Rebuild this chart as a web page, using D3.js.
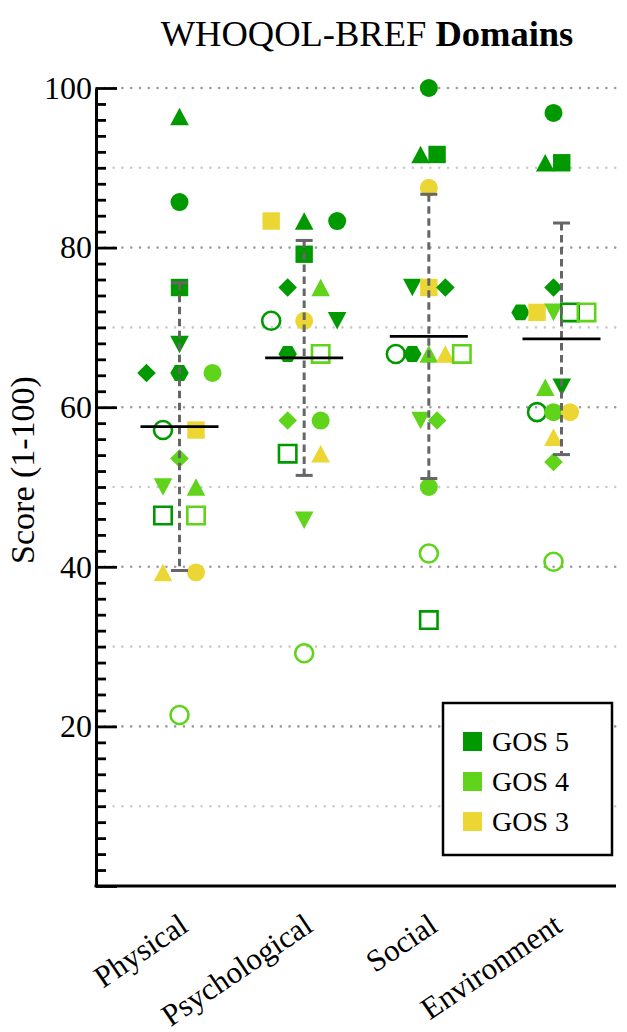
<!DOCTYPE html>
<html>
<head>
<meta charset="utf-8">
<script src="https://cdn.jsdelivr.net/npm/d3@7"></script>
<style>
  html, body { margin: 0; padding: 0; background: #ffffff; }
  svg { display: block; font-family: "Liberation Serif", "Times New Roman", serif; }
</style>
</head>
<body>
<svg id="chart" width="627" height="1032"></svg>
<script>
// ---- data ----------------------------------------------------------------
const domains = ["Physical", "Psychological", "Social", "Environment"];
const groups = ["GOS 5", "GOS 4", "GOS 3"];
const groupColors = ["#009a00", "#5fd41b", "#ebd633"];

// one marker per patient: outcome group, symbol and whether it is open
const patientIds    = ["5tri", "5cir", "5sq", "5inv", "5dia", "5hex", "5ocir", "5osq",
                       "4cir", "4dia", "4inv", "4tri", "4osq", "4ocir",
                       "3sq", "3tri", "3cir"];
const patientGroup  = [0, 0, 0, 0, 0, 0, 0, 0, 1, 1, 1, 1, 1, 1, 2, 2, 2];
const patientShape  = ["triangle", "circle", "square", "triangleDown", "diamond", "hexagon", "circle", "square",
                       "circle", "diamond", "triangleDown", "triangle", "square", "circle",
                       "square", "triangle", "circle"];
const patientHollow = [false, false, false, false, false, false, true, true,
                       false, false, false, false, true, true,
                       false, false, false];

// domain scores (0-100); patients sharing a score are listed left to right
const physicalScores = [
  ["5tri", 96.43], ["5cir", 85.71], ["5sq", 75.00], ["5inv", 67.86],
  ["5dia", 64.29], ["5hex", 64.29], ["4cir", 64.29],
  ["5ocir", 57.14], ["3sq", 57.14], ["4dia", 53.57],
  ["4inv", 50.00], ["4tri", 50.00], ["5osq", 46.43], ["4osq", 46.43],
  ["3tri", 39.29], ["3cir", 39.29], ["4ocir", 21.43]
];
const psychologicalScores = [
  ["3sq", 83.33], ["5tri", 83.33], ["5cir", 83.33], ["5sq", 79.17],
  ["5dia", 75.00], ["4tri", 75.00],
  ["5ocir", 70.83], ["3cir", 70.83], ["5inv", 70.83],
  ["5hex", 66.67], ["4osq", 66.67], ["4dia", 58.33], ["4cir", 58.33],
  ["5osq", 54.17], ["3tri", 54.17], ["4inv", 45.83], ["4ocir", 29.17]
];
const socialScores = [
  ["5cir", 100.00], ["5tri", 91.67], ["5sq", 91.67], ["3cir", 87.50],
  ["5inv", 75.00], ["3sq", 75.00], ["5dia", 75.00],
  ["5ocir", 66.67], ["5hex", 66.67], ["4tri", 66.67], ["3tri", 66.67], ["4osq", 66.67],
  ["4inv", 58.33], ["4dia", 58.33], ["4cir", 50.00], ["4ocir", 41.67], ["5osq", 33.33]
];
const environmentScores = [
  ["5cir", 96.88], ["5tri", 90.63], ["5sq", 90.63], ["5dia", 75.00],
  ["5hex", 71.88], ["3sq", 71.88], ["4inv", 71.88], ["5osq", 71.88], ["4osq", 71.88],
  ["4tri", 62.50], ["5inv", 62.50],
  ["5ocir", 59.38], ["4cir", 59.38], ["3cir", 59.38],
  ["3tri", 56.25], ["4dia", 53.13], ["4ocir", 40.63]
];
const domainScores = [physicalScores, psychologicalScores, socialScores, environmentScores];

const majorTicks = [0, 20, 40, 60, 80, 100];
const gridValues = [10, 20, 30, 40, 50, 60, 70, 80, 90, 100];

// ---- layout --------------------------------------------------------------
const svg = d3.select("#chart");
const axisX = 96, axisRight = 616, gridRight = 622;

const y = d3.scaleLinear().domain([0, 100]).range([886, 88]);
const x = d3.scalePoint().domain(domains).range([179.5, 553.5]);

// title
const title = svg.append("text")
  .attr("x", 367).attr("y", 46)
  .attr("text-anchor", "middle")
  .style("font-size", "36.5px")
  .attr("fill", "#000");
title.append("tspan").text("WHOQOL-BREF ");
title.append("tspan").attr("font-weight", "bold").text("Domains");

// dotted grid
svg.append("g").selectAll("line")
  .data(gridValues)
  .join("line")
  .attr("x1", axisX).attr("x2", gridRight)
  .attr("y1", d => y(d)).attr("y2", d => y(d))
  .attr("stroke", d => d % 20 === 0 ? "#9c9c9c" : "#c9c9c9")
  .attr("stroke-width", 2.6)
  .attr("stroke-linecap", "round")
  .attr("stroke-dasharray", "0 8.8");

// y axis: long ticks at 20s, short ticks every 2
const minorTicks = d3.range(0, 101, 2).filter(v => v % 20 !== 0);
const yMinor = svg.append("g").attr("transform", `translate(${axisX},0)`)
  .call(d3.axisLeft(y).tickValues(minorTicks).tickSizeInner(-10).tickSizeOuter(0).tickFormat(""));
yMinor.select(".domain").remove();
yMinor.selectAll(".tick line").attr("stroke", "#000").attr("stroke-width", 2.8);

const yMajor = svg.append("g").attr("transform", `translate(${axisX},0)`)
  .call(d3.axisLeft(y).tickValues(majorTicks).tickSizeInner(-21).tickSizeOuter(0).tickPadding(4)
    .tickFormat(d => d === 0 ? "" : d));
yMajor.select(".domain").attr("stroke", "#000").attr("stroke-width", 3);
yMajor.selectAll(".tick line").attr("stroke", "#000").attr("stroke-width", 2.8);
yMajor.selectAll(".tick text")
  .style("font-family", "'Liberation Serif', 'Times New Roman', serif")
  .style("font-size", "32px").attr("fill", "#000");

svg.append("text")
  .attr("transform", "translate(22,470) rotate(-90)")
  .attr("text-anchor", "middle")
  .attr("dominant-baseline", "central")
  .style("font-size", "34px")
  .text("Score (1-100)");

// x axis
svg.append("line")
  .attr("x1", axisX - 1.5).attr("x2", axisRight)
  .attr("y1", y(0)).attr("y2", y(0))
  .attr("stroke", "#000").attr("stroke-width", 3);

const xAxis = svg.append("g").attr("transform", `translate(0,${y(0)})`)
  .call(d3.axisBottom(x).tickSize(0));
xAxis.select(".domain").remove();
xAxis.selectAll(".tick text")
  .style("font-family", "'Liberation Serif', 'Times New Roman', serif")
  .style("font-size", "31px").attr("fill", "#000")
  .attr("text-anchor", "end")
  .attr("dy", null).attr("y", null)
  .attr("transform", "translate(10,44) rotate(-34)");

// ---- markers -------------------------------------------------------------
function markerPath(shape) {
  const p = d3.path();
  const poly = pts => { p.moveTo(pts[0][0], pts[0][1]); pts.slice(1).forEach(q => p.lineTo(q[0], q[1])); p.closePath(); };
  switch (shape) {
    case "circle": p.arc(0, 0, 9, 0, 2 * Math.PI); p.closePath(); break;
    case "square": poly([[-8.7, -8.7], [8.7, -8.7], [8.7, 8.7], [-8.7, 8.7]]); break;
    case "triangle": poly([[0, -8.8], [9.3, 8.8], [-9.3, 8.8]]); break;
    case "triangleDown": poly([[0, 8.8], [9.3, -8.8], [-9.3, -8.8]]); break;
    case "diamond": poly([[0, -9.3], [9.3, 0], [0, 9.3], [-9.3, 0]]); break;
    case "hexagon": {
      const r = 9.2;
      poly(d3.range(6).map(k => [r * Math.cos(k * Math.PI / 3), r * Math.sin(k * Math.PI / 3)]));
      break;
    }
  }
  return p.toString();
}

// points that share a score sit side by side, centred on the column
const colSpread = 66;

const pointLayer = svg.append("g");
domainScores.forEach((scores, di) => {
  const rows = d3.group(scores, d => d[1]);
  const widest = d3.max(rows.values(), v => v.length);
  const step = widest > 1 ? Math.min(33, colSpread / (widest - 1)) : 0;
  const pts = scores.map(([id, val]) => {
    const row = rows.get(val);
    const k = row.findIndex(r => r[0] === id);
    const idx = patientIds.indexOf(id);
    return { id, val, idx, off: (k - (row.length - 1) / 2) * step };
  });
  pointLayer.append("g").selectAll("path")
    .data(pts)
    .join("path")
    .attr("transform", d => `translate(${x(domains[di]) + d.off},${y(d.val)})`)
    .attr("d", d => markerPath(patientShape[d.idx]))
    .attr("fill", d => patientHollow[d.idx] ? "none" : groupColors[patientGroup[d.idx]])
    .attr("stroke", d => patientHollow[d.idx] ? groupColors[patientGroup[d.idx]] : "none")
    .attr("stroke-width", 2.6);
});

// ---- mean and SD ---------------------------------------------------------
const summaryShift = { Environment: 8 };
const summary = domains.map((dom, di) => {
  const vals = domainScores[di].map(d => d[1]);
  return { dom, mean: d3.mean(vals), sd: d3.deviation(vals), cx: x(dom) + (summaryShift[dom] || 0) };
});

const sumLayer = svg.append("g");
sumLayer.selectAll("line.sd")
  .data(summary).join("line").attr("class", "sd")
  .attr("x1", d => d.cx).attr("x2", d => d.cx)
  .attr("y1", d => y(d.mean + d.sd)).attr("y2", d => y(d.mean - d.sd))
  .attr("stroke", "#666").attr("stroke-width", 3)
  .attr("stroke-dasharray", "7.5 4.5");
["hi", "lo"].forEach(side => {
  sumLayer.selectAll("line.cap-" + side)
    .data(summary).join("line").attr("class", "cap-" + side)
    .attr("x1", d => d.cx - 8.5).attr("x2", d => d.cx + 8.5)
    .attr("y1", d => y(side === "hi" ? d.mean + d.sd : d.mean - d.sd))
    .attr("y2", d => y(side === "hi" ? d.mean + d.sd : d.mean - d.sd))
    .attr("stroke", "#666").attr("stroke-width", 3);
});
sumLayer.selectAll("line.mean")
  .data(summary).join("line").attr("class", "mean")
  .attr("x1", d => d.cx - 39).attr("x2", d => d.cx + 39)
  .attr("y1", d => y(d.mean)).attr("y2", d => y(d.mean))
  .attr("stroke", "#000").attr("stroke-width", 2.8);

// ---- legend --------------------------------------------------------------
const legend = svg.append("g").attr("transform", "translate(443,703)");
legend.append("rect")
  .attr("width", 169).attr("height", 152)
  .attr("fill", "#fff").attr("stroke", "#000").attr("stroke-width", 2.5);
const entries = legend.selectAll("g.entry")
  .data(groups).join("g").attr("class", "entry")
  .attr("transform", (d, i) => `translate(20,${29 + i * 40})`);
entries.append("rect")
  .attr("width", 19).attr("height", 19)
  .attr("fill", (d, i) => groupColors[i]);
entries.append("text")
  .attr("x", 29).attr("y", 19)
  .style("font-size", "28px")
  .attr("fill", "#000")
  .text(d => d);
</script>
</body>
</html>
